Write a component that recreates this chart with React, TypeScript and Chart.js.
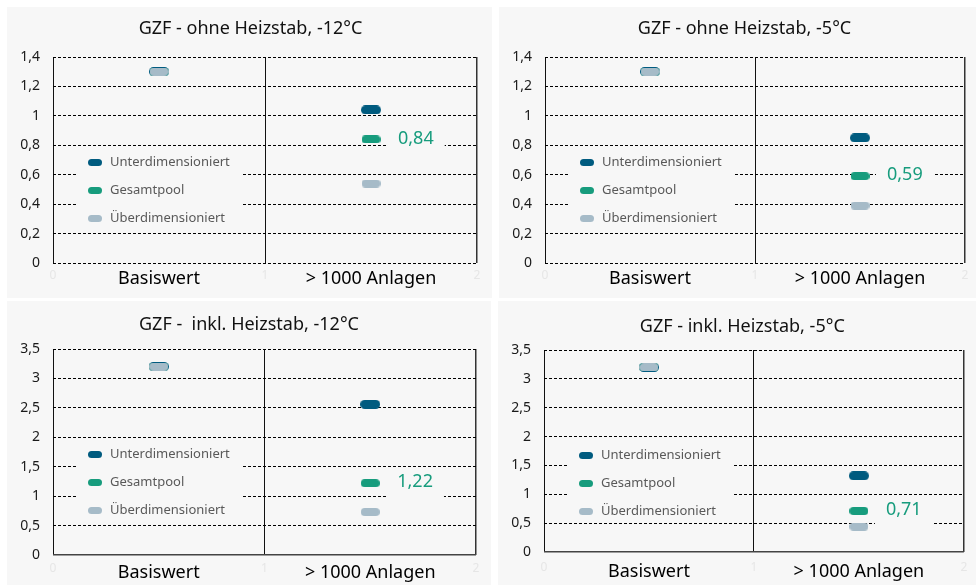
import React, { useEffect, useRef } from 'react';
import { Chart, registerables } from 'chart.js';

Chart.register(...registerables);

// ---------- data ----------
const categories = ['Basiswert', '> 1000 Anlagen'];
const xTickNumbers = ['0', '1', '2'];
const seriesNames = ['Unterdimensioniert', 'Gesamtpool', 'Überdimensioniert'];
const seriesColors = ['#005b7f', '#179c7d', '#a6bbc8'];

const titles = [
  'GZF - ohne Heizstab, -12°C',
  'GZF - ohne Heizstab, -5°C',
  'GZF -  inkl. Heizstab, -12°C',
  'GZF - inkl. Heizstab, -5°C',
];

const ohne12Unter = [1.3, 1.04];
const ohne12Gesamt = [1.3, 0.84];
const ohne12Ueber = [1.3, 0.54];

const ohne5Unter = [1.3, 0.85];
const ohne5Gesamt = [1.3, 0.59];
const ohne5Ueber = [1.3, 0.39];

const inkl12Unter = [3.2, 2.56];
const inkl12Gesamt = [3.2, 1.22];
const inkl12Ueber = [3.2, 0.73];

const inkl5Unter = [3.2, 1.32];
const inkl5Gesamt = [3.2, 0.71];
const inkl5Ueber = [3.2, 0.44];

const yMaxOhne = 1.4;
const yStepOhne = 0.2;
const yMaxInkl = 3.5;
const yStepInkl = 0.5;

const panelData = [
  { title: titles[0], series: [ohne12Unter, ohne12Gesamt, ohne12Ueber], yMax: yMaxOhne, yStep: yStepOhne },
  { title: titles[1], series: [ohne5Unter, ohne5Gesamt, ohne5Ueber], yMax: yMaxOhne, yStep: yStepOhne },
  { title: titles[2], series: [inkl12Unter, inkl12Gesamt, inkl12Ueber], yMax: yMaxInkl, yStep: yStepInkl },
  { title: titles[3], series: [inkl5Unter, inkl5Gesamt, inkl5Ueber], yMax: yMaxInkl, yStep: yStepInkl },
];

// ---------- layout / style ----------
const FONT = '"Noto Sans", "Open Sans", sans-serif';
const panelBg = '#f7f7f7';

const layouts = [
  { left: 7, top: 7, width: 485, height: 291, plot: { l: 46, r: 470, t: 50, b: 256 }, title: { x: 243.5, y: 22 }, labelGap: 16, solidBase: false },
  { left: 499, top: 7, width: 477, height: 291, plot: { l: 46, r: 474, t: 50, b: 256 }, title: { x: 245.5, y: 22 }, labelGap: 16, solidBase: false },
  { left: 7, top: 301, width: 484, height: 284, plot: { l: 46, r: 469, t: 48, b: 254 }, title: { x: 242, y: 24 }, labelGap: 17.5, solidBase: true },
  { left: 498, top: 301, width: 478, height: 284, plot: { l: 46, r: 474, t: 49, b: 251 }, title: { x: 244.3, y: 26 }, labelGap: 19.5, solidBase: true },
];

function makeMarker(color: string, w: number, h: number) {
  const c = document.createElement('canvas');
  c.width = w;
  c.height = h;
  const ctx = c.getContext('2d')!;
  const r = h / 2;
  ctx.fillStyle = color;
  ctx.beginPath();
  ctx.moveTo(r, 0);
  ctx.lineTo(w - r, 0);
  ctx.arc(w - r, r, r, -Math.PI / 2, Math.PI / 2);
  ctx.lineTo(r, h);
  ctx.arc(r, r, r, Math.PI / 2, (3 * Math.PI) / 2);
  ctx.closePath();
  ctx.fill();
  return c;
}

const fmtComma = (v: number, digits: number) => v.toFixed(digits).replace('.', ',');

function Panel({ index }: { index: number }) {
  const ref = useRef<HTMLCanvasElement>(null);
  const lay = layouts[index];
  const pd = panelData[index];

  useEffect(() => {
    const canvas = ref.current!;
    const markers = [
      makeMarker(seriesColors[0], 20, 9),
      makeMarker(seriesColors[1], 19, 8),
      makeMarker(seriesColors[2], 19, 8),
    ];
    const legendMarkers = seriesColors.map((c) => makeMarker(c, 14, 7));
    const xs = categories.map((_, i) => i + 0.5);
    const xTickValues = [0, 0.5, 1, 1.5, 2];
    const xTickLabels = [xTickNumbers[0], categories[0], xTickNumbers[1], categories[1], xTickNumbers[2]];

    const datasets = pd.series.map((vals, si) => ({
      label: seriesNames[si],
      data: vals.map((v, i) => ({ x: xs[i], y: v })),
      pointStyle: markers[si],
      pointRadius: 10,
      pointHoverRadius: 10,
      showLine: false,
      order: 2 - si,
      backgroundColor: seriesColors[si],
      borderColor: seriesColors[si],
    }));

    const overlay = {
      id: 'overlay',
      afterDatasetsDraw(chart: any) {
        const { ctx, chartArea: a } = chart;
        ctx.save();
        // legend inside plot
        const ly = a.top + 105;
        ctx.fillStyle = panelBg;
        ctx.fillRect(a.left + 24, ly - 12, 166, 80);
        ctx.font = `13px ${FONT}`;
        ctx.textBaseline = 'middle';
        ctx.textAlign = 'left';
        seriesNames.forEach((name, i) => {
          const y = ly + i * 28;
          ctx.drawImage(legendMarkers[i], a.left + 42 - 7, Math.round(y - 3.5));
          ctx.fillStyle = '#595959';
          ctx.fillText(name, a.left + 57, y);
        });
        // data label for Gesamtpool at second category
        const meta = chart.getDatasetMeta(1);
        const pt = meta.data[1];
        const text = fmtComma(pd.series[1][1], 2);
        ctx.font = `18px ${FONT}`;
        const w = ctx.measureText(text).width;
        const tx = pt.x + 27;
        ctx.fillStyle = panelBg;
        ctx.fillRect(tx - 11, pt.y - 16, w + 22, 32);
        ctx.fillStyle = seriesColors[1];
        ctx.fillText(text, tx, pt.y - 1);
        // title
        ctx.font = `18px ${FONT}`;
        ctx.textAlign = 'center';
        ctx.fillStyle = '#111';
        ctx.fillText(pd.title, lay.title.x, lay.title.y);
        ctx.restore();
      },
    };

    const chart = new Chart(canvas, {
      type: 'scatter',
      data: { datasets },
      options: {
        animation: false,
        responsive: false,
        events: [],
        layout: { padding: { left: 0, right: lay.width - lay.plot.r, top: lay.plot.t, bottom: 0 } },
        plugins: {
          legend: { display: false },
          tooltip: { enabled: false },
          title: { display: false },
        },
        scales: {
          x: {
            type: 'linear',
            min: 0,
            max: 2,
            afterFit: (s: any) => {
              s.height = lay.height - lay.plot.b;
            },
            afterBuildTicks: (s: any) => {
              s.ticks = xTickValues.map((v) => ({ value: v }));
            },
            border: { display: false },
            grid: {
              drawTicks: false,
              color: (c: any) => {
                const v = c.tick ? c.tick.value : -1;
                if (v === 0 || v === 1) return '#111';
                if (v === 2) return '#333';
                return 'rgba(0,0,0,0)';
              },
              lineWidth: (c: any) => (c.tick && c.tick.value === 2 ? 1.5 : 1),
            },
            ticks: {
              autoSkip: false,
              maxRotation: 0,
              padding: lay.labelGap - 10.8,
              callback: (_v: any, i: number) => xTickLabels[i],
              color: (c: any) => (c.tick && c.tick.value % 1 === 0 ? '#e6e6e6' : '#000'),
              font: (c: any) =>
                c.tick && c.tick.value % 1 === 0
                  ? { family: FONT, size: 12 }
                  : { family: FONT, size: 18 },
            },
          },
          y: {
            min: 0,
            max: pd.yMax,
            afterFit: (s: any) => {
              s.width = lay.plot.l;
            },
            border: {
              display: false,
              dash: (c: any) => (lay.solidBase && c.tick && c.tick.value === 0 ? [] : [3, 2]),
            },
            grid: {
              drawTicks: false,
              color: (c: any) => (lay.solidBase && c.tick && c.tick.value === 0 ? '#444' : '#000'),
              lineWidth: (c: any) => (lay.solidBase && c.tick && c.tick.value === 0 ? 1.5 : 1),
            },
            ticks: {
              stepSize: pd.yStep,
              padding: 13,
              color: '#1a1a1a',
              font: { family: FONT, size: 14 },
              callback: (v: any) => String(Math.round(Number(v) * 10) / 10).replace('.', ','),
            },
          },
        },
      },
      plugins: [overlay],
    } as any);
    return () => chart.destroy();
  }, []);

  return (
    <div
      style={{
        position: 'absolute',
        left: lay.left,
        top: lay.top,
        width: lay.width,
        height: lay.height,
        background: panelBg,
      }}
    >
      <canvas ref={ref} width={lay.width} height={lay.height} style={{ display: 'block' }} />
    </div>
  );
}

export default function App() {
  return (
    <div style={{ position: 'absolute', left: 0, top: 0, width: 976, height: 585, background: '#fff', overflow: 'hidden' }}>
      {layouts.map((_, i) => (
        <Panel key={i} index={i} />
      ))}
    </div>
  );
}
